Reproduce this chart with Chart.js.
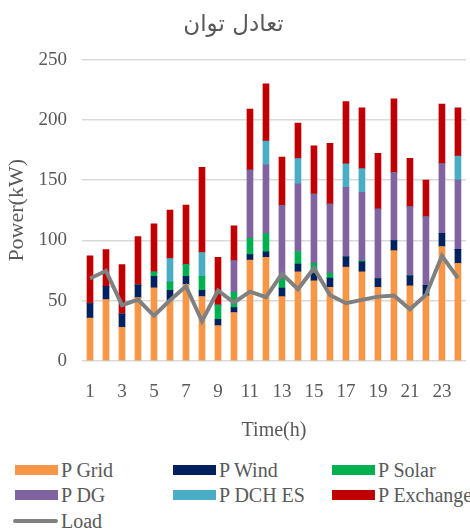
<!DOCTYPE html>
<html>
<head>
<meta charset="utf-8">
<script src="https://cdn.jsdelivr.net/npm/chart.js@4/dist/chart.umd.min.js"></script>
<style>
  body { margin: 0; background: #fff; }
  #wrap { position: relative; width: 470px; height: 531px; overflow: hidden; }
  #chart-box { position: absolute; left: 0; top: 0; width: 470px; height: 450px; }
  #legend { position: absolute; left: 0; top: 450px; width: 470px; height: 81px;
            font-family: "Liberation Serif", "Times New Roman", serif; font-size: 20px; color: #595959; }
  .item { position: absolute; white-space: nowrap; line-height: 20px; }
  .sw { position: absolute; left: 0; top: 5px; width: 43px; height: 10px; }
  .sw.line { top: 8px; height: 4px; border-radius: 2px; }
  .txt { position: absolute; left: 46px; top: 0; }
</style>
</head>
<body>
<div id="wrap">
  <div id="chart-box"><canvas id="power-chart" width="470" height="450"></canvas></div>
  <div id="legend"></div>
</div>
<script>
// hours
var hours = ['1','2','3','4','5','6','7','8','9','10','11','12','13','14','15','16','17','18','19','20','21','22','23','24'];

// stacked sources (kW)
var pGrid     = [35.7, 51, 28, 52.6, 60.6, 50.4, 63.5, 53.5, 29.4, 40.2, 83.8, 86, 53.4, 74, 66.4, 61.2, 78, 74, 61.2, 91.6, 62.3, 54, 95, 81];
var pWind     = [12, 11, 11, 10.3, 9.7, 8.3, 6.8, 5.2, 5.2, 4.1, 4.5, 4.5, 7, 6.3, 6.4, 7.5, 8.4, 8.2, 7.2, 8.3, 8.3, 8.8, 11, 11.6];
var pSolar    = [0, 0, 0, 0, 3.4, 6.7, 9.7, 11.6, 11.7, 12.7, 13.5, 15, 7.7, 10.5, 8.3, 4.1, 0, 0.8, 0, 0, 0, 0, 0, 0];
var pDG       = [0, 0, 0, 0, 0, 0, 0, 0, 0, 26, 56.5, 57.3, 61, 56.2, 57.4, 57.3, 57.6, 57, 57.6, 56.3, 57.3, 56.8, 57.6, 57.4];
var pDchES    = [0, 0, 0, 0, 0, 19.6, 0, 19.7, 0, 0, 0, 19.7, 0, 21, 0, 0, 19.6, 19.6, 0, 0, 0, 0, 0, 19.9];
var pExchange = [39.5, 30.5, 41, 40.4, 40, 40.2, 49.3, 70.6, 39.6, 29.1, 50.7, 47.3, 40, 29.3, 40, 50.5, 51.5, 50.4, 46.3, 61.2, 40.2, 30.5, 49.6, 40.1];

// demand
var load = [68.4, 74.8, 46.3, 51, 37.5, 50.4, 62, 33, 58.5, 48.5, 57.5, 53, 72.3, 59.5, 77, 54.8, 47.9, 50.7, 53.4, 54.3, 42.9, 54.8, 87.2, 68.7];

var yTicks = [0, 50, 100, 150, 200, 250];

var textColor = '#595959';
var serif = '"Liberation Serif", "Times New Roman", serif';

var barSeries = [
    { label: 'P Grid',     data: pGrid,     color: '#F79646' },
    { label: 'P Wind',     data: pWind,     color: '#002060' },
    { label: 'P Solar',    data: pSolar,    color: '#00B050' },
    { label: 'P DG',       data: pDG,       color: '#8064A2' },
    { label: 'P DCH ES',   data: pDchES,    color: '#4BACC6' },
    { label: 'P Exchange', data: pExchange, color: '#C00000' }
];

var datasets = [];
// Load line first so it is drawn on top
datasets.push({
    type: 'line',
    label: 'Load',
    data: load,
    borderColor: '#808080',
    borderWidth: 4,
    pointRadius: 0,
    tension: 0,
    stack: 'load',
    order: 0
});
barSeries.forEach(function(s) {
    datasets.push({
        type: 'bar',
        label: s.label,
        data: s.data,
        backgroundColor: s.color,
        borderWidth: 0,
        barThickness: 6,
        stack: 'power',
        order: 1
    });
});

var ctx = document.getElementById('power-chart');
var chart = new Chart(ctx, {
    data: {
        labels: hours,
        datasets: datasets
    },
    options: {
        responsive: false,
        animation: false,
        layout: { padding: { left: 0, right: 3, top: 0, bottom: 0 } },
        plugins: {
            legend: { display: false },
            tooltip: { enabled: false },
            title: {
                display: true,
                text: 'تعادل توان',
                color: textColor,
                font: { family: '"DejaVu Sans", sans-serif', size: 23, weight: 'normal' },
                padding: { top: 11, bottom: 21 }
            }
        },
        scales: {
            x: {
                stacked: true,
                grid: { display: false },
                border: { display: false },
                ticks: {
                    autoSkip: false,
                    maxRotation: 0,
                    padding: 12,
                    color: textColor,
                    font: { family: serif, size: 19 },
                    callback: function(val, idx) {
                        return idx % 2 === 0 ? hours[idx] : '';
                    }
                },
                title: {
                    display: true,
                    text: 'Time(h)',
                    color: textColor,
                    font: { family: serif, size: 20 },
                    padding: { top: 0, bottom: 7 }
                },
                afterFit: function(scale) { scale.height = 89; }
            },
            y: {
                stacked: true,
                min: 0,
                max: 250,
                afterBuildTicks: function(scale) {
                    scale.ticks = yTicks.map(function(v) { return { value: v }; });
                },
                grid: { color: '#D9D9D9', lineWidth: 1.5, drawTicks: false },
                border: { display: false },
                ticks: {
                    padding: 15,
                    color: textColor,
                    font: { family: serif, size: 19 }
                },
                title: {
                    display: true,
                    text: 'Power(kW)',
                    color: textColor,
                    font: { family: serif, size: 22 },
                    padding: { top: 4, bottom: 0 }
                },
                afterFit: function(scale) { scale.width = 82; }
            }
        }
    }
});

// legend in 3 columns like the original
var legendItems = barSeries.map(function(s) { return { label: s.label, color: s.color, line: false }; });
legendItems.push({ label: 'Load', color: '#808080', line: true });
var colX = [15, 173, 332];
var rowY = [10, 35, 61];
var legend = document.getElementById('legend');
legendItems.forEach(function(item, i) {
    var div = document.createElement('div');
    div.className = 'item';
    div.style.left = (colX[i % 3] - (item.line ? 2 : 0)) + 'px';
    div.style.top = rowY[Math.floor(i / 3)] + 'px';
    var sw = document.createElement('span');
    sw.className = 'sw' + (item.line ? ' line' : '');
    sw.style.background = item.color;
    if (item.line) sw.style.width = '45px';
    var txt = document.createElement('span');
    txt.className = 'txt';
    if (item.line) txt.style.left = '48px';
    txt.textContent = item.label;
    div.appendChild(sw);
    div.appendChild(txt);
    legend.appendChild(div);
});
</script>
</body>
</html>
